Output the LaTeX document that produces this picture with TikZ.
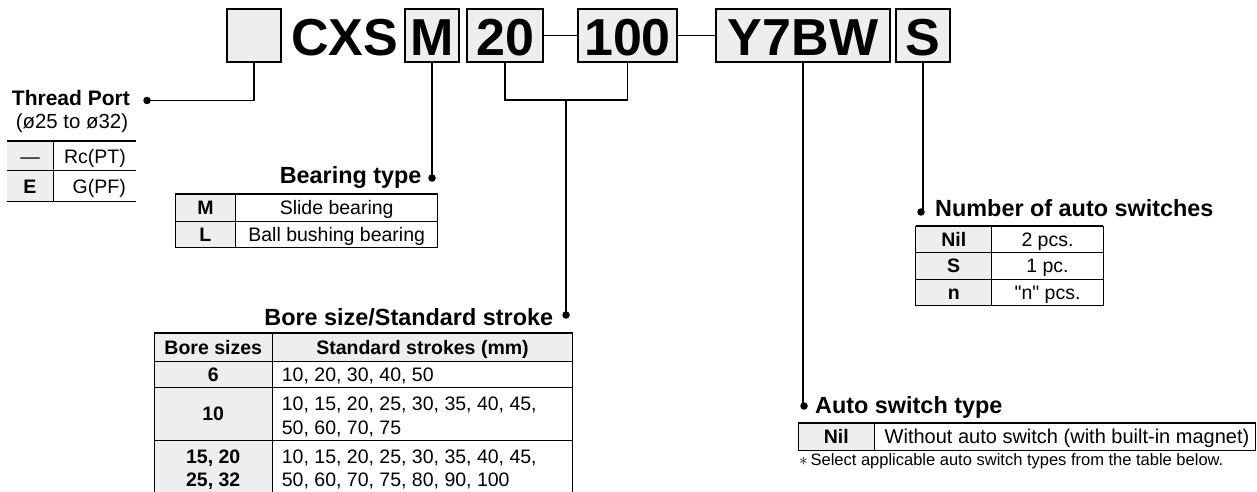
\documentclass[tikz,border=0pt]{standalone}
\usepackage{fontspec}
\setmainfont{Liberation Sans}[Ligatures=TeXOff]
\usepackage{tikz}
\usetikzlibrary{positioning,calc}

\begin{document}
\begin{tikzpicture}[x=1pt,y=-1pt,
        code/.style={draw,line width=1.3pt,fill=gray!13,minimum height=53pt,inner sep=0pt,text height=41pt,text depth=0pt,font=\fontsize{52}{52}\selectfont\bfseries},
        head/.style={inner sep=0pt,font=\fontsize{23.4}{26}\selectfont\bfseries},
        cell/.style={inner sep=0pt,text height=16pt,text depth=2pt,font=\fontsize{19.5}{24}\selectfont},
        key/.style={inner sep=0pt,text height=16pt,text depth=2pt,font=\fontsize{19.5}{24}\selectfont\bfseries},
        shade/.style={fill=gray!13},
        rule/.style={line width=1pt},
        toprule/.style={line width=2pt},
        conn/.style={line width=1.3pt},
        dot/.style={circle,fill,inner sep=0pt,minimum size=7.5pt}]
        \useasboundingbox (0,0) rectangle (1257,492);
        \node[code,minimum width=54pt] (port) at (254,35.5) {};
        \node[inner sep=0pt,text height=41pt,text depth=0pt,font=\fontsize{52}{52}\selectfont\bfseries] (cxs) at (344.5,35.5) {CXS};
        \node[code,minimum width=54pt] (bear) at (432,35.5) {M};
        \node[code,minimum width=76pt] (bore) at (505,35.5) {20};
        \node[code,minimum width=99pt] (stroke) at (627.5,35.5) {100};
        \node[code,minimum width=174pt] (sw) at (803,35.5) {Y7BW};
        \node[code,minimum width=54pt] (num) at (923,35.5) {S};
        \draw[conn] (bore) -- (stroke);
        \draw[conn] (stroke) -- (sw);
        % thread port
        \node[dot] (portdot) at (147,100.5) {};
        \draw[conn] (port.south) |- (portdot.center);
        \node[head,font=\fontsize{21}{24}\selectfont\bfseries,anchor=base east] (porthead) at (130,106) {Thread Port};
        \node[inner sep=0pt,font=\fontsize{20.4}{24}\selectfont] (portsize) at (72,123) {(ø25 to ø32)};
        \fill[shade] (6.7,141) rectangle (53.3,201.7);
        \draw[rule] (6.7,170.7) -- (136,170.7) (6.7,201.7) -- (136,201.7) (53.3,141) -- (53.3,201.7);
        \draw[toprule] (6.7,141) -- (136,141);
        \node[cell] (pnil) at (30,156) {—};
        \node[cell,anchor=east] (prc) at (126,156) {Rc(PT)};
        \node[key] (pe) at (30,186.2) {E};
        \node[cell,anchor=east] (pg) at (126,186.2) {G(PF)};
        % bearing type
        \node[dot] (beardot) at (432,178) {};
        \draw[conn] (bear.south) -- (beardot.center);
        \node[head,anchor=base east] (bearhead) at (421.7,183.3) {Bearing type};
        \fill[shade] (175,194.3) rectangle (235.7,247.7);
        \draw[rule] (175,194.3) rectangle (437.7,247.7) (175,221) -- (437.7,221) (235.7,194.3) -- (235.7,247.7);
        \draw[toprule] (175,194.3) -- (437.7,194.3);
        \node[key] (bm) at (205.4,207.7) {M};
        \node[cell] (bslide) at (336.7,207.7) {Slide bearing};
        \node[key] (bl) at (205.4,234.3) {L};
        \node[cell] (bball) at (336.7,234.3) {Ball bushing bearing};
        % bore size / stroke
        \coordinate (bracket) at (566,100);
        \draw[conn] (bore.south) |- (bracket) -| (stroke.south);
        \node[dot] (boredot) at (566,315) {};
        \draw[conn] (bracket) -- (boredot.center);
        \node[head,anchor=base east] (borehead) at (553.3,325) {Bore size/Standard stroke};
        \fill[shade] (154,333.3) rectangle (572.7,361) (154,361) rectangle (272.3,492);
        \draw[rule] (154,492) -- (154,333.3) -- (572.7,333.3) -- (572.7,492) (154,361) -- (572.7,361)
            (154,387.3) -- (572.7,387.3) (154,440) -- (572.7,440) (272.3,333.3) -- (272.3,492);
        \draw[toprule] (154,333.3) -- (572.7,333.3);
        \node[key] (bsizes) at (213.2,347.2) {Bore sizes};
        \node[key] (bstrokes) at (422.5,347.2) {Standard strokes (mm)};
        \node[key] (b6) at (213.2,374.2) {6};
        \node[cell,anchor=west] (s6) at (281.7,374.2) {10, 20, 30, 40, 50};
        \node[key] (b10) at (213.2,413.7) {10};
        \node[cell,text height=,text depth=,anchor=west,align=left] (s10) at (281.7,417) {10, 15, 20, 25, 30, 35, 40, 45,\\50, 60, 70, 75};
        \node[inner sep=0pt,align=center,font=\fontsize{19.5}{23.5}\selectfont\bfseries] (b15) at (213.2,469.5) {15, 20\\25, 32};
        \node[inner sep=0pt,anchor=west,align=left,font=\fontsize{19.5}{23.5}\selectfont] (s15) at (281.7,469.5) {10, 15, 20, 25, 30, 35, 40, 45,\\50, 60, 70, 75, 80, 90, 100};
        % number of auto switches
        \node[dot] (numdot) at (921,212) {};
        \draw[conn] (num.south) |- (numdot.center);
        \node[head,anchor=base west] (numhead) at (935,216.7) {Number of auto switches};
        \fill[shade] (915.7,226) rectangle (991.7,305);
        \draw[rule] (915.7,226) rectangle (1103.3,305) (915.7,252.5) -- (1103.3,252.5)
            (915.7,279) -- (1103.3,279) (991.7,226) -- (991.7,305);
        \draw[toprule] (915.7,226) -- (1103.3,226);
        \node[key] (nnil) at (953.7,239.2) {Nil};
        \node[cell] (n2) at (1047.5,239.2) {2 pcs.};
        \node[key] (ns) at (953.7,265.7) {S};
        \node[cell] (n1) at (1047.5,265.7) {1 pc.};
        \node[key] (nn) at (953.7,292) {n};
        \node[cell] (nx) at (1047.5,292) {"n" pcs.};
        % auto switch type
        \node[dot] (swdot) at (804,406) {};
        \draw[conn] (sw.south) |- (swdot.center);
        \node[head,anchor=base west] (swhead) at (815,413.3) {Auto switch type};
        \fill[shade] (798.3,422.7) rectangle (874.3,450);
        \draw[rule] (798.3,422.7) rectangle (1255.5,450) (874.3,422.7) -- (874.3,450);
        \draw[toprule] (798.3,422.7) -- (1255.5,422.7);
        \node[key] (snil) at (836.3,436.4) {Nil};
        \node[cell,font=\fontsize{20}{24}\selectfont] (snone) at (1067,436.4) {Without auto switch (with built-in magnet)};
        \node[inner sep=0pt,anchor=west,font=\fontsize{16.5}{18}\selectfont] (swnote) at (799,461.7) {$\ast$\,Select applicable auto switch types from the table below.};
    \end{tikzpicture}
\end{document}
